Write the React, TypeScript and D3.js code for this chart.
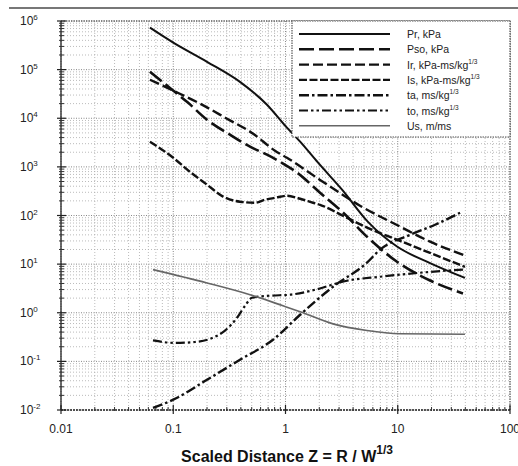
import React from "react";
import * as d3 from "d3";

// ---- data ----
const xTicks = [0.01, 0.1, 1, 10, 100];
const xTickLabels = ["0.01", "0.1", "1", "10", "100"];
const yExponents = [6, 5, 4, 3, 2, 1, 0, -1, -2];

const prZ = [0.062, 0.1, 0.2, 0.393, 0.684, 1.03, 1.35, 1.95, 3.19, 5.43, 9.85, 19.4, 39.7];
const prV = [7.3e5, 3.6e5, 1.45e5, 5.6e4, 1.9e4, 6400, 3300, 1220, 340, 74, 23, 10.5, 5.2];

const psoZ = [0.062, 0.0935, 0.135, 0.2, 0.32, 0.483, 0.684, 0.893, 1.27, 2.03, 3.19, 5.43, 9.85, 19.4, 38.1];
const psoV = [9.0e4, 4.2e4, 2.1e4, 9300, 4600, 2600, 1780, 1280, 760, 295, 120, 35, 11.2, 4.6, 2.5];

const irZ = [0.062, 0.1, 0.173, 0.301, 0.503, 0.806, 1.03, 2.03, 4.61, 10.5, 19.4, 39.7];
const irV = [6.2e4, 3.7e4, 2.0e4, 9800, 5000, 2150, 1540, 540, 159, 59, 29, 15];

const isZ = [0.062, 0.1, 0.141, 0.2, 0.278, 0.393, 0.535, 0.657, 0.806, 1.03, 1.35, 1.76, 2.03, 3.39, 5.66, 10.5, 19.4, 39.7];
const isV = [3300, 1540, 790, 430, 245, 192, 183, 211, 231, 255, 221, 183, 166, 94, 53, 30, 17, 8.8];

const taZ = [0.066, 0.1, 0.2, 0.393, 0.774, 1.35, 2.65, 5.32, 6.95, 12.9, 21.5, 35.9];
const taV = [0.0111, 0.0163, 0.0419, 0.108, 0.278, 0.91, 3.43, 10.7, 19.8, 40.2, 64.5, 114];

const toZ = [0.066, 0.1036, 0.156, 0.2126, 0.289, 0.37, 0.436, 0.503, 0.728, 1.1, 1.83, 3.53, 6.95, 15.8, 26.4, 38.1];
const toV = [0.27, 0.24, 0.25, 0.29, 0.43, 0.79, 1.39, 2.03, 2.24, 2.35, 2.97, 4.55, 5.5, 6.65, 7.3, 7.7];

const usZ = [0.066, 0.2, 0.483, 0.95, 1.35, 2.65, 5.32, 10.5, 39.7];
const usV = [7.7, 4.1, 2.35, 1.39, 1.05, 0.59, 0.43, 0.37, 0.36];

const seriesNames = ["Pr, kPa", "Pso, kPa", "Ir, kPa-ms/kg", "Is, kPa-ms/kg", "ta, ms/kg", "to, ms/kg", "Us, m/ms"];
const seriesSup = ["", "", "1/3", "1/3", "1/3", "1/3", ""];

// ---- styles ----
const styles = [
  { dash: "", width: 2, color: "#111" },
  { dash: "15,5", width: 2.6, color: "#111" },
  { dash: "10,4", width: 2.4, color: "#111" },
  { dash: "8,2.5", width: 2.4, color: "#111" },
  { dash: "10,3,2.5,3", width: 2.4, color: "#111" },
  { dash: "9,3,2.5,3,2.5,3", width: 2.2, color: "#111" },
  { dash: "", width: 1.6, color: "#666" },
];

const W = 518, H = 466;
const L = 61, R = 510, T = 21, B = 410;

export default function App() {
  const x = d3.scaleLog().domain([0.01, 100]).range([L, R]);
  const y = d3.scaleLog().domain([0.01, 1e6]).range([B, T]);

  const series = [
    [prZ, prV], [psoZ, psoV], [irZ, irV], [isZ, isV], [taZ, taV], [toZ, toV], [usZ, usV],
  ];
  const line = d3.line<[number, number]>()
    .x((d) => x(d[0]))
    .y((d) => y(d[1]))
    .curve(d3.curveMonotoneX);

  const xMinor: number[] = [];
  for (let e = -2; e < 2; e++) for (let k = 2; k <= 9; k++) xMinor.push(k * Math.pow(10, e));
  const yMinor: number[] = [];
  for (let e = -2; e < 6; e++) for (let k = 2; k <= 9; k++) yMinor.push(k * Math.pow(10, e));

  const font = "'Liberation Sans', Arial, sans-serif";
  const legX0 = 299, legX1 = 390, legTx = 407;
  const legY = (i: number) => 34 + i * 15.3;

  return (
    <svg width={W} height={H} style={{ position: "absolute", left: 0, top: 0, background: "#fff" }} fontFamily={font}>
      <rect x={0} y={0} width={W} height={H} fill="#fff" />
      {/* top rule */}
      <line x1={9} x2={W} y1={8} y2={8} stroke="#777" strokeWidth={2} />

      {/* grid */}
      {xMinor.map((v, i) => (
        <line key={"xm" + i} x1={x(v)} x2={x(v)} y1={T} y2={B} stroke="#aaa" strokeWidth={0.8} strokeDasharray="1,2" />
      ))}
      {yMinor.map((v, i) => (
        <line key={"ym" + i} x1={L} x2={R} y1={y(v)} y2={y(v)} stroke="#aaa" strokeWidth={0.8} strokeDasharray="1,2" />
      ))}
      {xTicks.map((v, i) => (
        <line key={"xM" + i} x1={x(v)} x2={x(v)} y1={T} y2={B} stroke="#888" strokeWidth={1} strokeDasharray="1,1.5" />
      ))}
      {yExponents.map((e, i) => (
        <line key={"yM" + i} x1={L} x2={R} y1={y(Math.pow(10, e))} y2={y(Math.pow(10, e))} stroke="#888" strokeWidth={1} strokeDasharray="1,1.5" />
      ))}

      {/* frame */}
      <line x1={L} x2={R} y1={T} y2={T} stroke="#444" strokeWidth={1.2} strokeDasharray="1.5,1" />
      <line x1={R} x2={R} y1={T} y2={B} stroke="#777" strokeWidth={1.4} strokeDasharray="1.5,1" />
      <line x1={L} x2={L} y1={T} y2={B} stroke="#222" strokeWidth={1.3} />
      <line x1={L} x2={R} y1={B} y2={B} stroke="#222" strokeWidth={1.3} strokeDasharray="2,1" />
      {yMinor.map((v, i) => (
        <line key={"yt" + i} x1={L - 2} x2={L + 3} y1={y(v)} y2={y(v)} stroke="#333" strokeWidth={1} />
      ))}
      {yExponents.map((e, i) => (
        <line key={"yT" + i} x1={L - 4} x2={L + 5} y1={y(Math.pow(10, e))} y2={y(Math.pow(10, e))} stroke="#222" strokeWidth={1.2} />
      ))}
      {xMinor.map((v, i) => (
        <line key={"xt" + i} x1={x(v)} x2={x(v)} y1={B - 3} y2={B + 1} stroke="#333" strokeWidth={1} />
      ))}
      {xTicks.map((v, i) => (
        <line key={"xT" + i} x1={x(v)} x2={x(v)} y1={B - 5} y2={B + 4} stroke="#222" strokeWidth={1.2} />
      ))}

      {/* y tick labels */}
      {yExponents.map((e, i) => (
        <text key={"yl" + i} x={20} y={y(Math.pow(10, e)) + 4} fontSize={12} fill="#222">
          10
          <tspan dy={-5} fontSize={8}>{e < 0 ? "-" + Math.abs(e) : String(e)}</tspan>
        </text>
      ))}
      {/* x tick labels */}
      {xTicks.map((v, i) => (
        <text key={"xl" + i} x={x(v)} y={433} fontSize={12} textAnchor="middle" fill="#222">
          {xTickLabels[i]}
        </text>
      ))}
      {/* x title */}
      <text x={287} y={462} fontSize={16} fontWeight="bold" textAnchor="middle" fill="#111">
        Scaled Distance Z = R / W
        <tspan dy={-8} fontSize={12}>1/3</tspan>
      </text>

      {/* curves */}
      {series.map(([zs, vs], i) => {
        const pts = zs.map((z, j) => [z, vs[j]] as [number, number]);
        return (
          <path key={"s" + i} d={line(pts) || ""} fill="none" stroke={styles[i].color}
            strokeWidth={styles[i].width} strokeDasharray={styles[i].dash || undefined} strokeLinecap="butt" />
        );
      })}

      {/* legend */}
      <rect x={292} y={T} width={R - 292} height={137 - T} fill="#fff" stroke="#555" strokeWidth={1.2} strokeDasharray="1.5,1" />
      {seriesNames.map((name, i) => (
        <g key={"lg" + i}>
          <line x1={legX0} x2={legX1} y1={legY(i)} y2={legY(i)} stroke={styles[i].color}
            strokeWidth={styles[i].width} strokeDasharray={styles[i].dash || undefined} />
          <text x={legTx} y={legY(i) + 4} fontSize={10.5} fill="#222">
            {name}
            {seriesSup[i] ? <tspan dy={-5} fontSize={6.5}>{seriesSup[i]}</tspan> : null}
          </text>
        </g>
      ))}
    </svg>
  );
}
